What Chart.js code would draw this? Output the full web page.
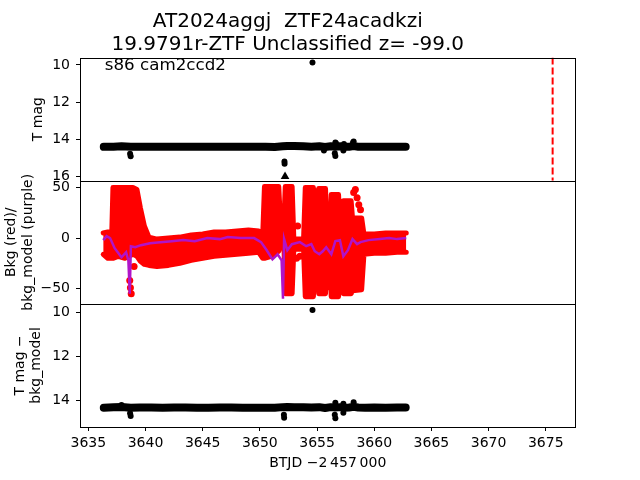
<!DOCTYPE html>
<html>
<head>
<meta charset="utf-8">
<script src="https://cdn.jsdelivr.net/npm/chart.js@4.4.0/dist/chart.umd.min.js"></script>
<style>
  body { margin: 0; background: #fff; }
  #wrap { width: 640px; height: 480px; }
</style>
</head>
<body>
<div id="wrap"><canvas id="lc" width="640" height="480"></canvas></div>
<script>
// light curve band (TESS mag), sampled along the dense cloud
const lcTime = [3636.35, 3637.2, 3637.9, 3638.7, 3639.5, 3640.5, 3641.5, 3642.5, 3643.5, 3644.5,
                3645.5, 3646.5, 3647.5, 3648.5, 3649.5, 3650.5, 3651.3, 3652.0, 3652.4, 3653.0,
                3653.8, 3654.5, 3655.2, 3655.7, 3656.2, 3656.6, 3657.0, 3657.4, 3657.8, 3658.2,
                3658.6, 3659.2, 3660.0, 3661.0, 3662.0, 3662.75];
const tMag = [14.41, 14.40, 14.38, 14.41, 14.40, 14.40, 14.41, 14.40, 14.40, 14.41,
              14.41, 14.40, 14.40, 14.41, 14.41, 14.41, 14.42, 14.38, 14.36, 14.37,
              14.38, 14.40, 14.38, 14.42, 14.38, 14.40, 14.38, 14.41, 14.40, 14.37,
              14.40, 14.41, 14.40, 14.41, 14.40, 14.40];
const tMagResid = [14.33, 14.31, 14.29, 14.33, 14.32, 14.32, 14.33, 14.32, 14.32, 14.33,
                   14.33, 14.32, 14.32, 14.33, 14.33, 14.33, 14.33, 14.30, 14.29, 14.30,
                   14.30, 14.32, 14.30, 14.34, 14.30, 14.32, 14.30, 14.33, 14.32, 14.29,
                   14.32, 14.33, 14.32, 14.33, 14.32, 14.32];

// points off the band
const magOutTime = [3638.65, 3638.7, 3652.15, 3652.16, 3654.6, 3655.6, 3656.55, 3656.6, 3656.6, 3656.65, 3657.3, 3657.35, 3658.15, 3658.2];
const magOut = [14.78, 14.92, 15.2, 15.32, 9.87, 14.6, 14.75, 14.9, 14.18, 14.22, 14.6, 14.25, 14.18, 14.12];
const residOutTime = [3637.9, 3638.65, 3638.7, 3652.1, 3652.12, 3654.6, 3656.55, 3656.6, 3656.6, 3657.3, 3657.3, 3658.2];
const residOut = [14.2, 14.58, 14.7, 14.65, 14.78, 9.9, 14.65, 14.8, 14.1, 14.15, 14.55, 14.08];
const limitTime = [3652.2];
const limitMag = [16.0];

const discoveryTime = 3675.6;

// background flux envelope (red) and model (purple)
const bkgTime = [3636.30, 3636.70, 3637.05, 3637.15, 3637.60, 3638.20, 3638.90, 3639.25, 3639.55, 3639.90,
                 3640.30, 3641.00, 3642.00, 3643.00, 3644.00, 3645.00, 3646.00, 3647.00, 3648.00, 3649.00,
                 3649.90, 3650.25, 3650.40, 3651.00, 3651.65, 3651.80, 3652.10, 3652.22, 3652.82, 3652.97,
                 3653.82, 3653.97, 3654.68, 3654.85, 3655.00, 3655.14, 3655.74, 3655.90, 3656.10, 3656.24,
                 3656.88, 3657.04, 3657.16, 3657.30, 3657.98, 3658.10, 3658.90, 3659.10, 3660.00, 3661.00,
                 3662.00, 3662.80];
const bkgHigh = [5, 6, 6, 50, 50, 50, 50, 48, 30, 12,
                 1, -1, 0, 1, 3, 4, 6, 6, 7, 8,
                 7, 4, 51, 51, 51, 16, 16, 51, 51, -1,
                 -1, 50, 50, -1, -1, 49, 49, -3, -3, 43,
                 43, -1, -1, 37, 37, 20, 20, 4, 4, 5,
                 5, 5];
const bkgLow = [-16, -20, -20, -20, -18, -20, -16, -18, -23, -26,
                -27, -28, -27, -25, -22, -20, -18, -17, -16, -15,
                -14, -20, -20, -18, -13, -6, -6, -55, -55, -11,
                -11, -58, -58, -11, -11, -55, -55, -12, -12, -58,
                -58, -12, -12, -55, -55, -52, -51, -16, -15, -15,
                -14, -14];
const bkgStrayTime = [3638.62, 3638.68, 3638.75, 3639.0, 3654.8, 3654.9, 3654.95, 3655.98, 3656.03, 3657.1, 3658.2, 3658.35, 3658.5, 3658.65, 3658.8, 3653.2, 3653.5, 3653.3];
const bkgStray = [-42, -49, -55, -28, 46, 38, 26, -38, -48, -45, 45, 48, 40, 33, 28, -20, -18, 12];

const bkgModelTime = [3636.3, 3636.6, 3636.9, 3637.3, 3637.9, 3638.3, 3638.5, 3638.62, 3638.72, 3639.1,
                      3639.6, 3640.4, 3641.3, 3642.3, 3643.3, 3644.3, 3645.4, 3646.5, 3647.2, 3648.3,
                      3649.5, 3650.1, 3650.6, 3651.1, 3651.55, 3651.9, 3652.02, 3652.12, 3652.4, 3652.8,
                      3653.5, 3654.05, 3654.5, 3654.8, 3655.2, 3655.5, 3655.8, 3656.25, 3656.6, 3657.0,
                      3657.3, 3657.7, 3658.1, 3658.5, 3658.8, 3659.5, 3660.5, 3661.3, 3662.0, 3662.8];
const bkgModel = [-2, 2, 0, -10, -19, -14, -22, -55, -8, -9,
                  -7, -5, -4, -3, -2, -3, 0, -1, 1, 0,
                  0, -4, -12, -21, -16, -22, -60, -1, -12, -6,
                  -4, -8, -6, -13, -16, -13, -9, -16, -3, -2,
                  -18, -12, -1, -6, -4, -2, -1, 0, -1, 0];

// axis limits
const xMin = 3634.27, xMax = 3677.6;
const magMin = 9.6, magMax = 16.23;
const bkgMin = -65, bkgMax = 56.8;
const residMin = 9.62, residMax = 15.2;

const pts = (xs, ys) => xs.map((x, i) => ({ x: x, y: ys[i] }));
const FONT = 'DejaVu Sans';
const minus = v => (v < 0 ? '\u2212' + Math.abs(v) : String(v));

// box around each panel, like matplotlib spines
const panelFrames = {
    id: 'panelFrames',
    afterDatasetsDraw(chart) {
        const ctx = chart.ctx;
        const a = chart.chartArea;
        ctx.save();
        ctx.strokeStyle = '#000';
        ctx.lineWidth = 1;
        ['yMag', 'yBkg', 'yResid'].forEach(id => {
            const s = chart.scales[id];
            ctx.strokeRect(Math.round(a.left) + 0.5, Math.round(s.top) + 0.5,
                Math.round(a.right - a.left) - 1, Math.round(s.bottom - s.top));
        });
        // sector / camera note in the top panel
        const s = chart.scales.yMag;
        ctx.fillStyle = '#000';
        ctx.font = '16.7px "' + FONT + '"';
        ctx.textBaseline = 'alphabetic';
        ctx.textAlign = 'left';
        ctx.fillText('s86 cam2ccd2', a.left + 0.05 * (a.right - a.left), s.top + 12.5);
        ctx.restore();
    }
};

function yScale(min, max, reverse, step, label, pad, cb) {
    return {
        type: 'linear',
        position: 'left',
        stack: 'panels',
        min: min,
        max: max,
        reverse: reverse,
        border: { display: false },
        grid: { drawOnChartArea: false, drawTicks: true, tickLength: 4, tickColor: '#000', tickWidth: 1 },
        ticks: { stepSize: step, includeBounds: false, color: '#000', padding: 6,
                 font: { family: FONT, size: 14 }, callback: cb || (v => String(v)) },
        title: { display: true, text: label, color: '#000', padding: { top: pad, bottom: 0 },
                 font: { family: FONT, size: 14, lineHeight: 1.2 } },
        afterFit: scale => { scale.width = 80; }
    };
}

const ctx = document.getElementById('lc').getContext('2d');
new Chart(ctx, {
    type: 'scatter',
    data: {
        datasets: [
            { data: pts(bkgModelTime, bkgModel), yAxisID: 'yBkg', showLine: true, borderColor: '#b014c8',
              borderWidth: 2.5, pointRadius: 0, order: 0 },
            { data: pts(bkgTime, bkgHigh), yAxisID: 'yBkg', showLine: true, borderColor: '#ff0000',
              backgroundColor: '#ff0000', fill: '+1', borderWidth: 5, pointRadius: 0,
              borderJoinStyle: 'round', borderCapStyle: 'round', order: 3 },
            { data: pts(bkgTime, bkgLow), yAxisID: 'yBkg', showLine: true, borderColor: '#ff0000',
              borderWidth: 5, pointRadius: 0, borderJoinStyle: 'round', borderCapStyle: 'round', order: 3 },
            { data: pts(bkgStrayTime, bkgStray), yAxisID: 'yBkg', pointRadius: 3.5, borderWidth: 0,
              backgroundColor: '#ff0000', order: 3 },
            { data: pts(lcTime, tMag), yAxisID: 'yMag', showLine: true, borderColor: '#000', borderWidth: 8,
              pointRadius: 0, borderJoinStyle: 'round', borderCapStyle: 'round', order: 1 },
            { data: pts(magOutTime, magOut), yAxisID: 'yMag', pointRadius: 3, borderWidth: 0,
              backgroundColor: '#000', order: 1 },
            { data: pts(limitTime, limitMag), yAxisID: 'yMag', pointStyle: 'triangle', pointRadius: 5,
              borderWidth: 0, backgroundColor: '#000', order: 1 },
            { data: [{ x: discoveryTime, y: magMin }, { x: discoveryTime, y: magMax }], yAxisID: 'yMag',
              showLine: true, borderColor: '#ff0000', borderWidth: 2, borderDash: [7, 3], pointRadius: 0, order: 1 },
            { data: pts(lcTime, tMagResid), yAxisID: 'yResid', showLine: true, borderColor: '#000', borderWidth: 8,
              pointRadius: 0, borderJoinStyle: 'round', borderCapStyle: 'round', order: 1 },
            { data: pts(residOutTime, residOut), yAxisID: 'yResid', pointRadius: 3, borderWidth: 0,
              backgroundColor: '#000', order: 1 }
        ]
    },
    options: {
        responsive: false,
        animation: false,
        devicePixelRatio: 1,
        layout: { padding: { left: 0, right: 64.5, top: 0, bottom: 0 } },
        plugins: {
            legend: { display: false },
            tooltip: { enabled: false },
            title: {
                display: true,
                text: ['AT2024aggj  ZTF24acadkzi', '19.9791r-ZTF Unclassified z= -99.0'],
                color: '#000',
                padding: { top: 10, bottom: 1.5 },
                font: { family: FONT, size: 20, weight: 'normal', lineHeight: 1.15 }
            }
        },
        scales: {
            x: {
                type: 'linear',
                position: 'bottom',
                min: xMin,
                max: xMax,
                border: { display: false },
                grid: { drawOnChartArea: false, drawTicks: true, tickLength: 4, tickColor: '#000' },
                ticks: { stepSize: 5, includeBounds: false, color: '#000', padding: 4, maxRotation: 0,
                         font: { family: FONT, size: 14 }, callback: v => String(v) },
                title: { display: true, text: 'BTJD \u22122\u2009457\u2009000', color: '#000',
                         padding: { top: 0, bottom: 8.6 }, font: { family: FONT, size: 14, lineHeight: 1.2 } },
                afterFit: scale => { scale.height = 53; }
            },
            // stacked left axes: last one listed ends up on top
            yResid: yScale(residMin, residMax, true, 2, ['T mag \u2212', 'bkg_model'], 11.6),
            yBkg: yScale(bkgMin, bkgMax, false, 50, ['Bkg (red)/', 'bkg_model (purple)'], 3, minus),
            yMag: yScale(magMin, magMax, true, 2, 'T mag', 29.6)
        }
    },
    plugins: [panelFrames]
});
</script>
</body>
</html>
